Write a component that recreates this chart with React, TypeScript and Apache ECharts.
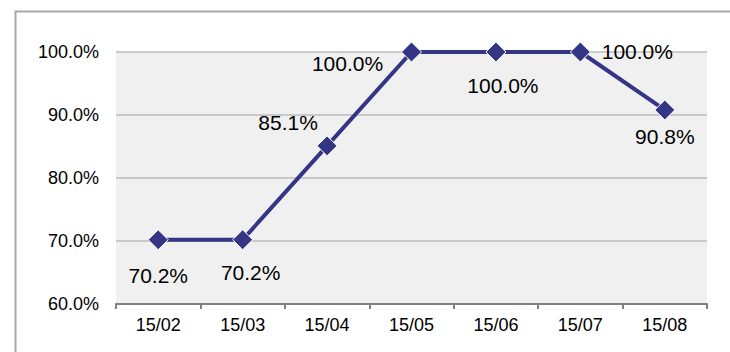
import React, { useEffect, useRef } from "react";
import * as echarts from "echarts";

const categories = ["15/02", "15/03", "15/04", "15/05", "15/06", "15/07", "15/08"];
const values = [70.2, 70.2, 85.1, 100.0, 100.0, 100.0, 90.8];
const yTicks = { min: 60, max: 100, interval: 10 };
const labelOffsets: [number, number][] = [
  [0, 36],
  [8, 33],
  [-39, -23],
  [-64, 11],
  [7, 33],
  [57, -1],
  [0, 27],
];

const FONT = "'Liberation Sans', Arial, sans-serif";

export default function App() {
  const ref = useRef<HTMLDivElement>(null);
  useEffect(() => {
    if (!ref.current) return;
    const chart = echarts.init(ref.current, null, { renderer: "svg" });
    chart.setOption({
      animation: false,
      backgroundColor: "#ffffff",
      textStyle: { fontFamily: FONT },
      grid: {
        left: 116,
        top: 52,
        right: 23,
        bottom: 48,
        show: true,
        backgroundColor: "#f0f0f0",
        borderWidth: 0,
      },
      graphic: [
        {
          type: "rect",
          left: 13,
          top: 9,
          shape: { width: 800, height: 400 },
          style: { fill: "none", stroke: "#a8a8a8", lineWidth: 2 },
          silent: true,
          z: 100,
        },
      ],
      xAxis: {
        type: "category",
        data: categories,
        boundaryGap: true,
        axisLine: { show: true, lineStyle: { color: "#808080", width: 2 } },
        axisTick: { show: true, length: 5, lineStyle: { color: "#808080", width: 2 } },
        axisLabel: { color: "#000", fontSize: 18, fontFamily: FONT, margin: 12 },
        splitLine: { show: false },
      },
      yAxis: {
        type: "value",
        min: yTicks.min,
        max: yTicks.max,
        interval: yTicks.interval,
        axisLine: { show: false },
        axisTick: { show: false },
        axisLabel: {
          color: "#000",
          fontSize: 18,
          fontFamily: FONT,
          margin: 17,
          formatter: (v: number) => v.toFixed(1) + "%",
        },
        splitLine: { show: true, lineStyle: { color: "#bdbdbd", width: 1.5 } },
      },
      series: [
        {
          type: "line",
          data: values.map((v, i) => ({
            value: v,
            label: {
              show: true,
              position: "inside",
              offset: labelOffsets[i],
              formatter: (p: any) => Number(p.value).toFixed(1) + "%",
              fontSize: 21,
              fontFamily: FONT,
              color: "#000",
              align: "center",
              verticalAlign: "middle",
            },
          })),
          symbol: "diamond",
          symbolSize: 20,
          lineStyle: { color: "#353585", width: 4 },
          itemStyle: { color: "#353585", borderColor: "#ffffff", borderWidth: 1 },
          z: 3,
        },
      ],
    });
    return () => chart.dispose();
  }, []);
  return (
    <div
      ref={ref}
      style={{ position: "absolute", left: 0, top: 0, width: 730, height: 352 }}
    />
  );
}
